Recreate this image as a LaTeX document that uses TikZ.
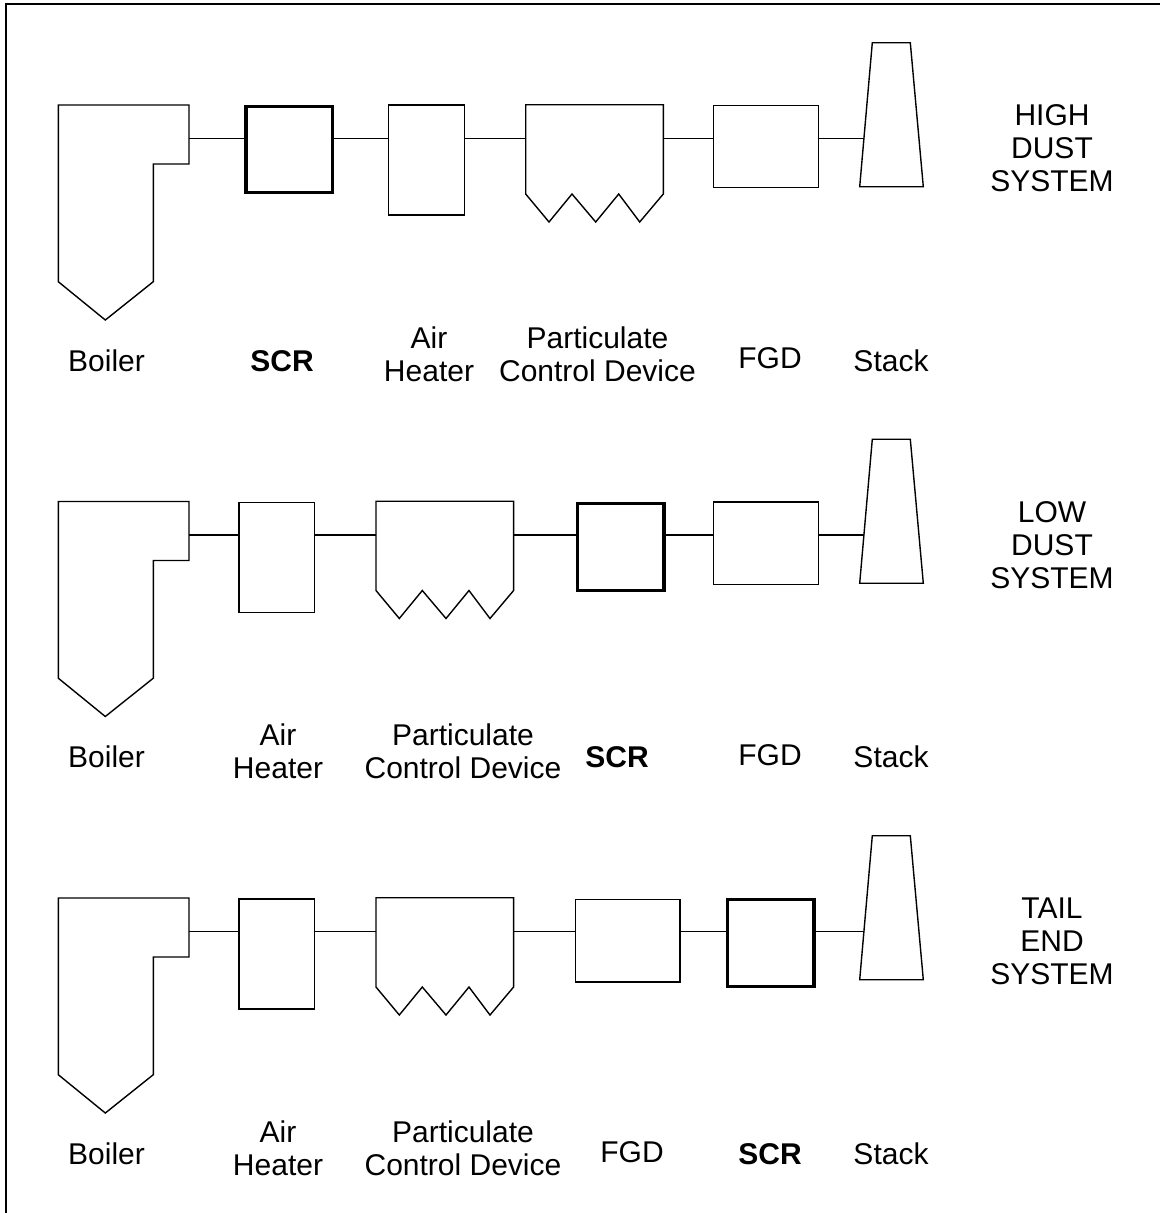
\documentclass[tikz,border=0pt]{standalone}
\usepackage{fontspec}
\setmainfont{Liberation Sans}
\begin{document}
\begin{tikzpicture}[x=1pt,y=-1pt,
  thinline/.style={line width=1.4pt, line join=miter},
  thickline/.style={line width=3.2pt, line join=miter},
  box/.style={draw, thinline, inner sep=0pt, outer sep=0pt},
  scrbox/.style={draw, thickline, inner sep=0pt, outer sep=0pt, minimum width=86.3pt, minimum height=86.5pt},
  ahbox/.style={box, minimum width=75.6pt, minimum height=110pt},
  fgdbox/.style={box, minimum width=104.5pt, minimum height=82.4pt},
  lbl/.style={font=\fontsize{30}{33}\selectfont, align=center, inner sep=0pt},
  conn/.style={thinline},
  frameline/.style={line width=2pt},
  boiler/.pic={
    \draw[thinline] (0,105) -- (130.7,105) -- (130.7,164) -- (95,164) -- (95,281.7) -- (47,320) -- (0,281.7) -- cycle;
    \coordinate (-out) at (130.7,138.6);
  },
  pcd/.pic={
    \draw[thinline] (0,194) -- (0,104.7) -- (137.6,104.7) -- (137.6,194) -- (114,222) -- (93,194) -- (70,222) -- (46.3,194) -- (23.3,222) -- cycle;
    \coordinate (-w) at (0,138.6);
    \coordinate (-e) at (137.6,138.6);
  },
  stack/.pic={
    \draw[thinline] (12.6,42.7) -- (50.6,42.7) -- (63.6,186.7) -- (0,186.7) -- cycle;
    \coordinate (-in) at (4.2,138.6);
  }
]
\useasboundingbox (0,0) rectangle (1160,1213);
\draw[frameline] (6,1213) -- (6,4) -- (1160,4);

% ---------- Row 1: HIGH DUST ----------
\begin{scope}
  \pic (b1) at (58.3,0) {boiler};
  \node[scrbox] (scr1) at (289.15,149.35) {};
  \node[ahbox] (ah1) at (426.5,160.15) {};
  \pic (p1) at (525.7,0) {pcd};
  \node[fgdbox] (fgd1) at (766,146.5) {};
  \pic (s1) at (859.7,0) {stack};
  \draw[conn] (b1-out) -- (b1-out -| scr1.west);
  \draw[conn] (b1-out -| scr1.east) -- (b1-out -| ah1.west);
  \draw[conn] (b1-out -| ah1.east) -- (p1-w);
  \draw[conn] (p1-e) -- (p1-e -| fgd1.west);
  \draw[conn] (p1-e -| fgd1.east) -- (s1-in);
  \node[lbl] (l1a) at (106.5,361) {Boiler};
  \node[lbl] (l1b) at (282,361) {\bfseries SCR};
  \node[lbl] (l1c) at (429,354) {Air\\Heater};
  \node[lbl] (l1d) at (597.5,354) {Particulate\\Control Device};
  \node[lbl] (l1e) at (770,358) {FGD};
  \node[lbl] (l1f) at (891,361) {Stack};
  \node[lbl] (l1g) at (1052,148) {HIGH\\DUST\\SYSTEM};
\end{scope}

% ---------- Row 2: LOW DUST ----------
\begin{scope}[shift={(0,396.5)}]
  \pic (b2) at (58.3,0) {boiler};
  \node[ahbox] (ah2) at (276.85,161.05) {};
  \pic (p2) at (376,0) {pcd};
  \node[scrbox] (scr2) at (620.85,150.55) {};
  \node[fgdbox] (fgd2) at (766,146.85) {};
  \pic (s2) at (859.7,0) {stack};
  \draw[conn] (b2-out) -- (b2-out -| ah2.west);
  \draw[conn] (b2-out -| ah2.east) -- (p2-w);
  \draw[conn] (p2-e) -- (p2-e -| scr2.west);
  \draw[conn] (p2-e -| scr2.east) -- (p2-e -| fgd2.west);
  \draw[conn] (p2-e -| fgd2.east) -- (s2-in);
  \node[lbl] (l2a) at (106.5,360.5) {Boiler};
  \node[lbl] (l2b) at (278,354.5) {Air\\Heater};
  \node[lbl] (l2c) at (463,354.5) {Particulate\\Control Device};
  \node[lbl] (l2d) at (617,360.5) {\bfseries SCR};
  \node[lbl] (l2e) at (770,358.5) {FGD};
  \node[lbl] (l2f) at (891,360.5) {Stack};
  \node[lbl] (l2g) at (1052,148.5) {LOW\\DUST\\SYSTEM};
\end{scope}

% ---------- Row 3: TAIL END ----------
\begin{scope}[shift={(0,793)}]
  \pic (b3) at (58.3,0) {boiler};
  \node[ahbox] (ah3) at (276.85,161.05) {};
  \pic (p3) at (376,0) {pcd};
  \node[fgdbox] (fgd3) at (627.8,147.6) {};
  \node[scrbox] (scr3) at (770.85,149.9) {};
  \pic (s3) at (859.7,0) {stack};
  \draw[conn] (b3-out) -- (b3-out -| ah3.west);
  \draw[conn] (b3-out -| ah3.east) -- (p3-w);
  \draw[conn] (p3-e) -- (p3-e -| fgd3.west);
  \draw[conn] (p3-e -| fgd3.east) -- (p3-e -| scr3.west);
  \draw[conn] (p3-e -| scr3.east) -- (s3-in);
  \node[lbl] (l3a) at (106.5,361) {Boiler};
  \node[lbl] (l3b) at (278,355) {Air\\Heater};
  \node[lbl] (l3c) at (463,355) {Particulate\\Control Device};
  \node[lbl] (l3d) at (632,359) {FGD};
  \node[lbl] (l3e) at (770,361) {\bfseries SCR};
  \node[lbl] (l3f) at (891,361) {Stack};
  \node[lbl] (l3g) at (1052,148) {TAIL\\END\\SYSTEM};
\end{scope}
\end{tikzpicture}
\end{document}
